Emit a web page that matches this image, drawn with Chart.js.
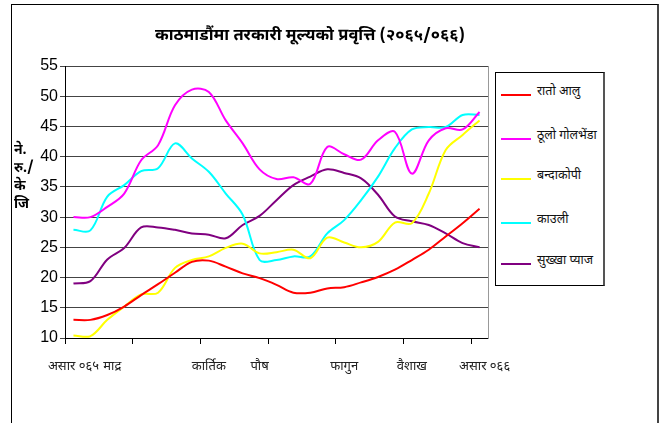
<!DOCTYPE html>
<html>
<head>
<meta charset="utf-8">
<script src="https://cdn.jsdelivr.net/npm/chart.js@4.4.1/dist/chart.umd.min.js"></script>
<style>
  body { margin: 0; background: #fff; }
  #wrap {
    position: relative; width: 666px; height: 423px; overflow: hidden;
    font-family: "Noto Sans Devanagari", "Noto Serif Devanagari", "Lohit Devanagari", "Noto Sans", sans-serif;
  }
  #frame {
    position: absolute; left: 11px; top: 4px; width: 645px; height: 440px;
    border-left: 1px solid #000; border-top: 1px solid #000; border-right: 2px solid #444;
  }
  #chart { position: absolute; left: 0; top: 0; }
  #title {
    position: absolute; left: 0; top: 25px; width: 620px; text-align: center;
    font-weight: bold; font-size: 16.5px; color: #000;
  }
  #ylabel {
    position: absolute; left: 14px; top: 142px; width: 30px;
    font-weight: bold; font-size: 14px; line-height: 18px; color: #000;
  }
  #legend {
    position: absolute; left: 495px; top: 72px; width: 107px; height: 212px;
    border: 1px solid #000; border-right: 2px solid #555; background: #fff;
  }
  .item { position: absolute; left: 5px; height: 16px; font-size: 12.5px; color: #111; white-space: nowrap; }
  .item span.swatch { position: absolute; left: 0; top: 7px; width: 30px; height: 2px; }
  .item span.txt { position: absolute; left: 36px; top: -3px; }
</style>
</head>
<body>
<div id="wrap">
  <div id="frame"></div>
  <canvas id="chart" width="666" height="423"></canvas>
  <div id="title">काठमाडौंमा तरकारी मूल्यको प्रवृत्ति (२०६५/०६६)</div>
  <div id="ylabel">ने.<br>रु./<br>के<br>जि</div>
  <div id="legend"></div>
</div>
<script>
// Data: pakshik (half-month) prices, Asar 065 .. Asar 066
const xLabels = ['असार ०६५', '', '   माद्र', '', '', '', '', '', 'कार्तिक', '', '', 'पौष', '',
                 '', '', '', 'फागुन', '', '', '', 'वैशाख', '', '', '', '   असार ०६६'];

const seriesNames = ['रातो आलु', 'ठूलो गोलभेंडा', 'बन्दाकोपी', 'काउली', 'सुख्खा प्याज'];
const seriesColors = ['#ff0000', '#ff00ff', '#ffff00', '#00ffff', '#800080'];

const ratoAlu   = [13.0, 13.0, 13.8, 15.2, 17.1, 18.9, 20.8, 22.6, 22.8, 21.8, 20.7, 19.9, 18.8,
                   17.5, 17.5, 18.2, 18.4, 19.2, 20.1, 21.3, 22.9, 24.6, 26.8, 29.0, 31.4];
const golbheda  = [30.0, 30.0, 31.7, 33.9, 39.4, 41.9, 48.5, 51.1, 50.7, 46.0, 42.2, 37.9, 36.3,
                   36.6, 35.5, 41.6, 40.4, 39.5, 42.7, 44.1, 37.2, 42.7, 44.7, 44.5, 47.4];
const bandakopi = [10.4, 10.3, 13.0, 15.2, 17.2, 17.5, 21.6, 22.9, 23.5, 24.9, 25.6, 24.0, 24.2,
                   24.6, 23.2, 26.6, 25.8, 25.0, 25.9, 29.1, 29.0, 33.9, 41.1, 43.6, 46.0];
const kauli     = [27.9, 27.8, 33.4, 35.3, 37.6, 38.1, 42.2, 39.7, 37.5, 33.9, 30.4, 22.9, 22.9,
                   23.5, 23.5, 27.3, 29.5, 32.8, 36.7, 41.4, 44.5, 44.9, 44.9, 46.9, 46.9];
const pyaj      = [19.0, 19.4, 23.0, 24.9, 28.3, 28.3, 27.9, 27.3, 27.1, 26.5, 28.7, 30.2, 32.8,
                   35.3, 36.7, 37.9, 37.3, 36.4, 33.7, 30.1, 29.3, 28.7, 27.3, 25.7, 25.0];

const yTicks = { min: 10, max: 55, step: 5 };

const seriesValues = [ratoAlu, golbheda, bandakopi, kauli, pyaj];

const datasets = seriesValues.map((vals, i) => ({
    label: seriesNames[i],
    data: vals,
    borderColor: seriesColors[i],
    borderWidth: 2,
    pointRadius: 0,
    fill: false,
    tension: 0.35
}));

const ctx = document.getElementById('chart').getContext('2d');
const chart = new Chart(ctx, {
    type: 'line',
    data: { labels: xLabels, datasets: datasets },
    options: {
        responsive: false,
        animation: false,
        layout: { padding: { left: 0, top: 66, right: 178, bottom: 45 } },
        plugins: { legend: { display: false }, tooltip: { enabled: false } },
        scales: {
            x: {
                offset: true,
                grid: {
                    offset: true,
                    drawOnChartArea: false,
                    tickLength: 6,
                    color: c => (c.index % 4 === 0 && c.index < xLabels.length) ? '#000' : 'rgba(0,0,0,0)'
                },
                border: { color: '#000', width: 1 },
                ticks: {
                    autoSkip: false, maxRotation: 0, padding: 16, color: '#222',
                    font: { family: '"Noto Sans Devanagari", "Lohit Devanagari", "Noto Sans", sans-serif', size: 13 }
                },
                afterFit: s => { s.height = 40; }
            },
            y: {
                min: yTicks.min, max: yTicks.max,
                grid: { color: '#444', tickLength: 5 },
                border: { color: '#000', width: 1 },
                ticks: {
                    stepSize: yTicks.step, padding: 2, color: '#000',
                    font: { family: '"Liberation Sans", Arial, sans-serif', size: 16 }
                },
                afterFit: s => { s.width = 65; }
            },
            yRight: {
                position: 'right',
                min: yTicks.min, max: yTicks.max,
                grid: { display: false },
                border: { color: '#999', width: 1 },
                ticks: { display: false },
                afterFit: s => { s.width = 0; }
            }
        }
    }
});

// HTML legend, built from the series arrays
const legendRows = [22, 66, 106, 150, 191];
const legend = document.getElementById('legend');
seriesNames.forEach((name, i) => {
    let row = document.createElement('div');
    row.className = 'item';
    row.style.top = (legendRows[i] - 8) + 'px';
    row.innerHTML = '<span class="swatch" style="background:' + seriesColors[i] + '"></span><span class="txt">' + name + '</span>';
    legend.appendChild(row);
});
</script>
</body>
</html>
